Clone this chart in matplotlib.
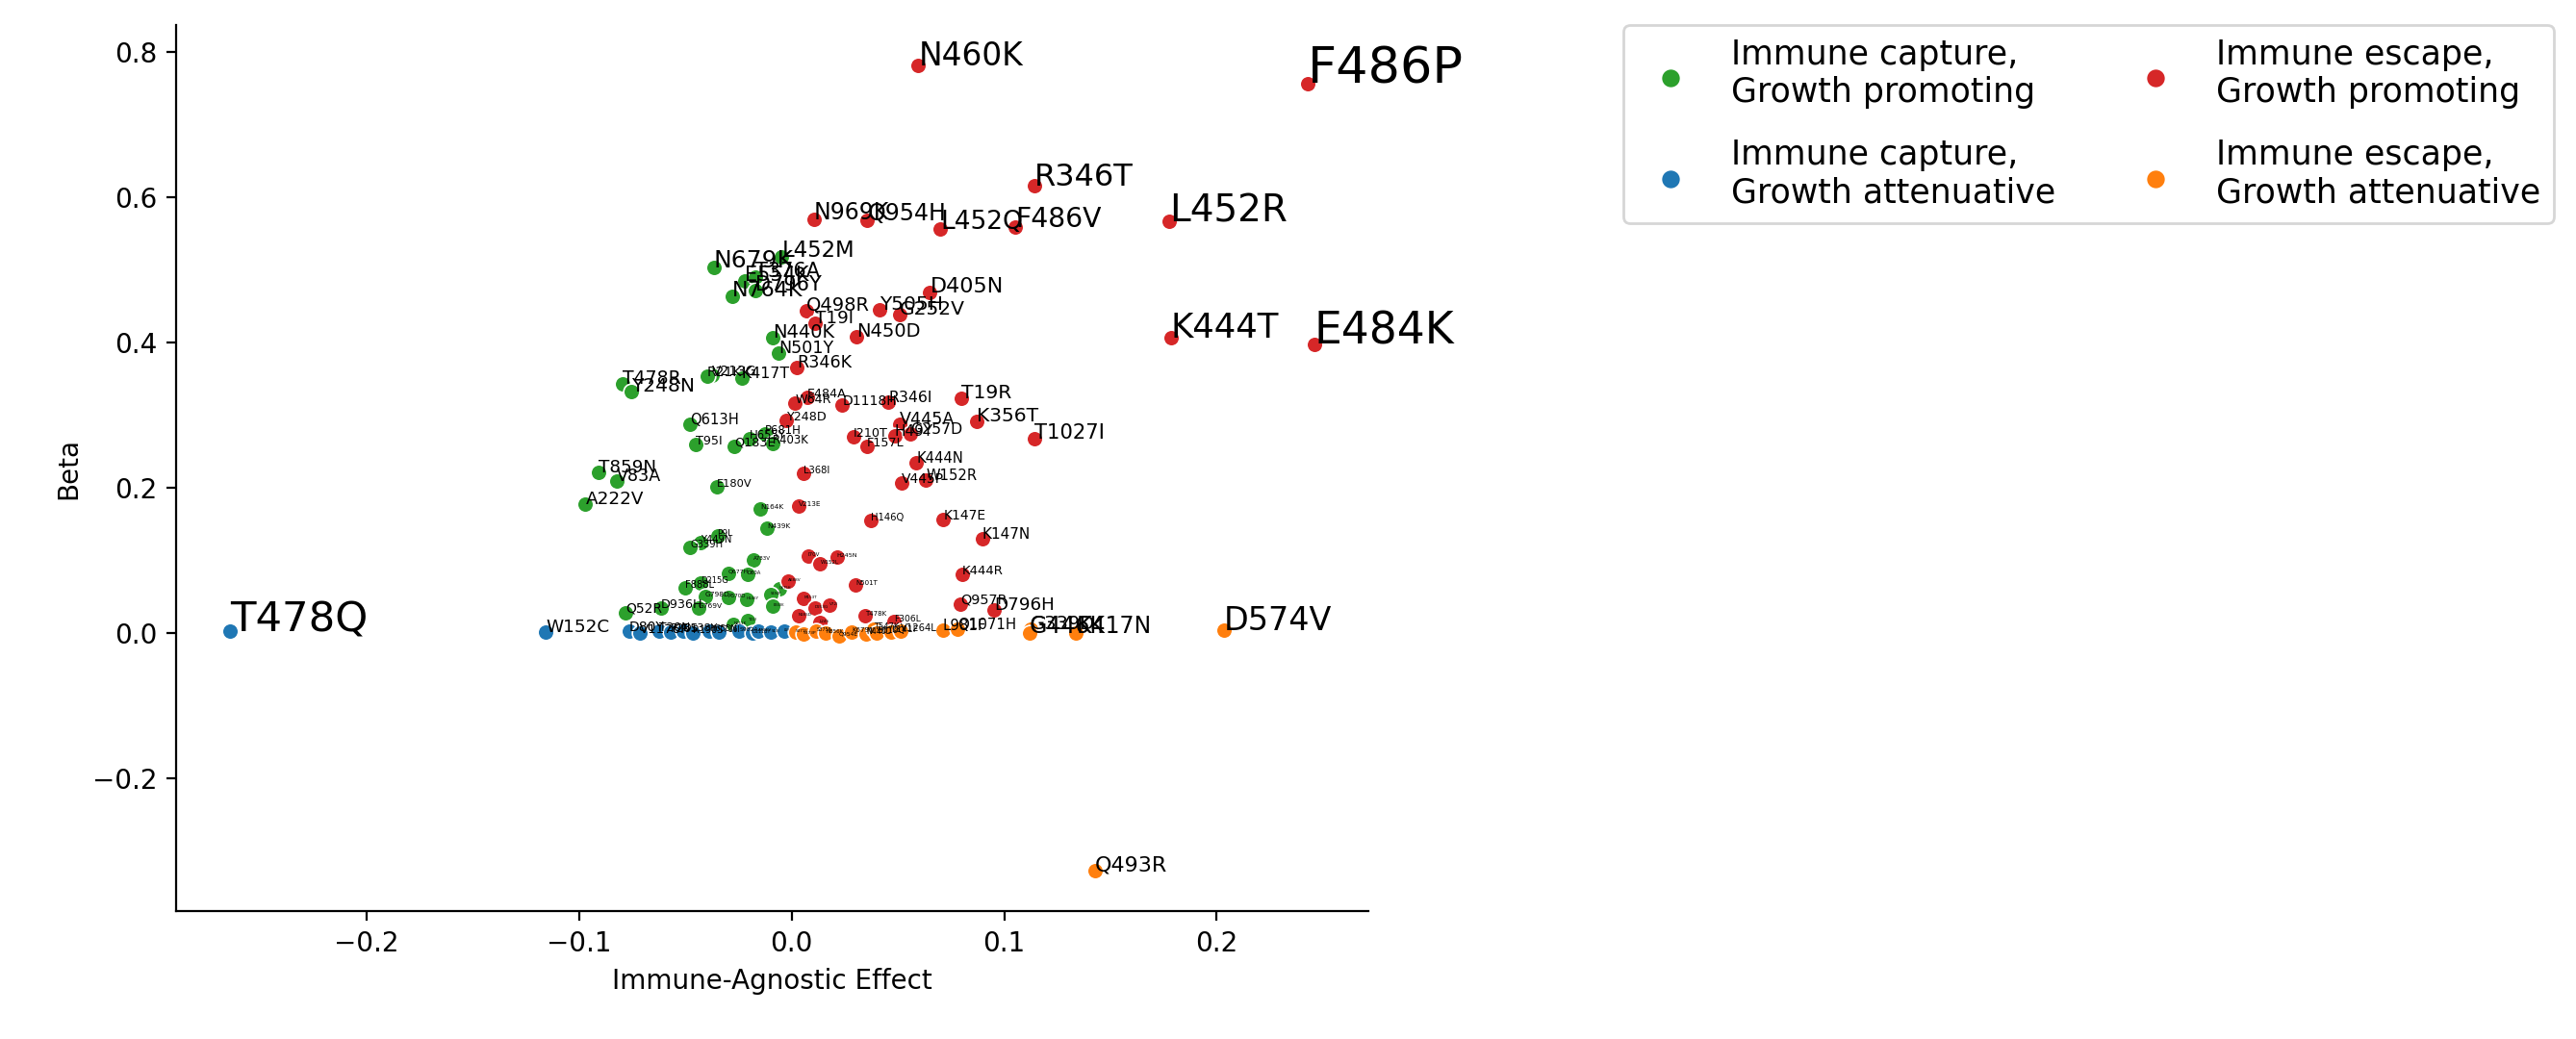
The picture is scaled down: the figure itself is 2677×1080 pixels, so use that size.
import matplotlib
matplotlib.use("Agg")
import matplotlib.pyplot as plt

# ---- data ----
# Immune capture, growth promoting (green)
cap_grow_names = ["N679K", "L452M", "E554K", "T376A", "D796Y", "N764K", "N440K", "N501Y",
                  "T478R", "Y248N", "V213G", "R21K", "K417T", "Q613H", "T95I", "Q183E",
                  "H655Y", "P681H", "R403K", "T859N", "V83A", "A222V", "E180V", "N164K",
                  "N439K", "P9L", "Y449N", "G339H", "A783V", "Q677H", "D80A", "D215G",
                  "F888L", "G798D", "A570D", "H146Y", "G769V", "D936H", "Q52R", "Q675H",
                  "S494P", "E340K", "N211K", "T22I"]
cap_grow_x = [-0.0367, -0.0047, -0.0219, -0.0171, -0.0171, -0.0279, -0.0087, -0.0062,
              -0.0796, -0.0756, -0.0374, -0.0398, -0.0235, -0.0480, -0.0453, -0.0269,
              -0.0198, -0.0126, -0.0088, -0.0910, -0.0823, -0.0970, -0.0352, -0.0149,
              -0.0115, -0.0349, -0.0427, -0.0477, -0.0181, -0.0299, -0.0209, -0.0427,
              -0.0502, -0.0408, -0.0299, -0.0213, -0.0439, -0.0616, -0.0782, -0.0058,
              -0.0099, -0.0088, -0.0273, -0.0206]
cap_grow_y = [0.503, 0.518, 0.485, 0.490, 0.472, 0.463, 0.407, 0.386,
              0.343, 0.332, 0.355, 0.354, 0.351, 0.288, 0.259, 0.257,
              0.268, 0.274, 0.261, 0.221, 0.209, 0.178, 0.201, 0.171,
              0.144, 0.134, 0.124, 0.118, 0.100, 0.082, 0.081, 0.069,
              0.062, 0.050, 0.049, 0.046, 0.034, 0.034, 0.028, 0.061,
              0.053, 0.037, 0.012, 0.017]
cap_grow_pt = [9.0, 8.2, 7.5, 7.5, 7.5, 8.0, 7.0, 6.3,
               6.8, 7.3, 5.0, 5.0, 5.7, 5.3, 4.6, 4.6,
               4.2, 4.2, 4.2, 6.6, 6.3, 6.6, 4.1, 2.6,
               2.6, 3.3, 3.6, 3.6, 2.0, 2.2, 1.9, 3.0,
               3.6, 2.7, 2.0, 1.5, 2.7, 4.6, 5.0, 1.3,
               1.3, 1.3, 1.5, 1.5]

# Immune capture, growth attenuative (blue)
cap_att_names = ["T478Q", "W152C", "D80Y", "V1176F", "T20N", "P26S", "D138Y", "R190S",
                 "H655N", "T716I", "S982A", "D1118Y", "A701V", "S13I", "L5F"]
cap_att_x = [-0.2641, -0.1158, -0.0766, -0.0714, -0.0623, -0.0570, -0.0510, -0.0465,
             -0.0389, -0.0344, -0.0247, -0.0186, -0.0156, -0.0096, -0.0035]
cap_att_y = [0.002, 0.001, 0.002, 0.000, 0.003, 0.001, 0.002, 0.000,
             0.003, 0.001, 0.002, 0.000, 0.003, 0.001, 0.002]
cap_att_pt = [15.6, 6.6, 5.0, 4.8, 4.4, 4.2, 4.0, 3.5,
              3.0, 2.8, 2.2, 1.8, 1.6, 1.4, 1.3]

# Immune escape, growth promoting (red)
esc_grow_names = ["N460K", "F486P", "R346T", "L452R", "N969K", "Q954H", "L452Q", "F486V",
                  "K444T", "E484K", "D405N", "Q498R", "Y505H", "G252V", "T19I", "N450D",
                  "R346K", "E484A", "W64R", "D1118H", "R346I", "T19R", "K356T", "T1027I",
                  "Y248D", "V445A", "H49Y", "G257D", "I210T", "F157L", "K444N", "V445P",
                  "W152R", "L368I", "V213E", "H146Q", "K147E", "K147N", "K444R", "Q957R",
                  "D796H", "I70V", "W152L", "H245N", "A688V", "N501T", "M153T", "D253G",
                  "V72I", "N185D", "T478K", "F306L", "L24S"]
esc_grow_x = [0.0596, 0.2430, 0.1144, 0.1778, 0.0105, 0.0356, 0.0700, 0.1052,
              0.1784, 0.2460, 0.0651, 0.0071, 0.0412, 0.0507, 0.0112, 0.0304,
              0.0026, 0.0074, 0.0017, 0.0239, 0.0455, 0.0799, 0.0869, 0.1143,
              -0.0027, 0.0510, 0.0485, 0.0560, 0.0289, 0.0353, 0.0586, 0.0518,
              0.0632, 0.0058, 0.0034, 0.0372, 0.0714, 0.0896, 0.0802, 0.0794,
              0.0953, 0.0078, 0.0135, 0.0213, -0.0017, 0.0301, 0.0058, 0.0108,
              0.0176, 0.0033, 0.0345, 0.0481, 0.0131]
esc_grow_y = [0.782, 0.757, 0.616, 0.567, 0.570, 0.569, 0.556, 0.559,
              0.407, 0.398, 0.469, 0.444, 0.445, 0.438, 0.427, 0.408,
              0.365, 0.325, 0.316, 0.314, 0.318, 0.323, 0.291, 0.267,
              0.292, 0.288, 0.272, 0.274, 0.270, 0.257, 0.234, 0.206,
              0.210, 0.220, 0.175, 0.155, 0.156, 0.129, 0.080, 0.040,
              0.031, 0.106, 0.095, 0.104, 0.071, 0.066, 0.047, 0.034,
              0.038, 0.023, 0.023, 0.016, 0.014]
esc_grow_pt = [11.8, 18.9, 11.5, 14.0, 8.5, 8.5, 9.5, 10.2,
               12.8, 16.4, 8.0, 7.0, 7.3, 7.3, 6.6, 7.0,
               6.3, 4.6, 4.6, 5.0, 5.7, 7.3, 7.3, 7.6,
               4.6, 6.3, 5.5, 5.7, 4.6, 4.6, 5.3, 5.0,
               5.3, 3.6, 2.6, 3.6, 5.0, 5.5, 4.8, 5.2,
               6.6, 2.0, 2.0, 2.3, 1.5, 2.5, 1.5, 1.5,
               1.5, 1.5, 2.5, 3.3, 1.5]

# Immune escape, growth attenuative (orange)
esc_att_names = ["S371F", "S373P", "S375F", "N856K", "Q954E", "K679N", "N440D", "T547K",
                 "E619Q", "L141F", "V1264L", "L981F", "Q1071H", "G339D", "G446K", "K417N",
                 "D574V", "Q493R"]
esc_att_x = [0.0018, 0.0055, 0.0116, 0.0161, 0.0222, 0.0282, 0.0349, 0.0387,
             0.0402, 0.0469, 0.0515, 0.0711, 0.0780, 0.1123, 0.1118, 0.1338,
             0.2033, 0.1427]
esc_att_y = [0.001, -0.002, 0.003, 0.000, -0.004, 0.001, -0.002, 0.005,
             0.000, 0.001, 0.002, 0.004, 0.005, 0.005, 0.000, 0.000,
             0.004, -0.328]
esc_att_pt = [1.5, 1.6, 1.8, 2.0, 2.2, 2.5, 2.8, 3.0,
              3.2, 3.4, 3.6, 5.4, 5.4, 7.0, 8.5, 8.5,
              12.0, 8.0]

# ---- plotting ----
groups = [
    ("Immune capture,\nGrowth promoting", "#2ca02c", cap_grow_names, cap_grow_x, cap_grow_y, cap_grow_pt),
    ("Immune capture,\nGrowth attenuative", "#1f77b4", cap_att_names, cap_att_x, cap_att_y, cap_att_pt),
    ("Immune escape,\nGrowth promoting", "#d62728", esc_grow_names, esc_grow_x, esc_grow_y, esc_grow_pt),
    ("Immune escape,\nGrowth attenuative", "#ff7f0e", esc_att_names, esc_att_x, esc_att_y, esc_att_pt),
]

fig = plt.figure(figsize=(2677 / 200, 1080 / 200), dpi=200)
ax = fig.add_axes([0.0684, 0.123, 0.4629, 0.853])

for label, color, names, xs, ys, pts in groups:
    ax.scatter(xs, ys, s=36, color=color, edgecolor="white", linewidth=0.6, label=label)

# label every point, text size follows the reference
for label, color, names, xs, ys, pts in groups:
    for name, x, y, pt in zip(names, xs, ys, pts):
        ax.text(x, y, name, fontsize=pt)

ax.set_xlabel("Immune-Agnostic Effect")
ax.set_ylabel("Beta")
ax.spines["top"].set_visible(False)
ax.spines["right"].set_visible(False)

ax.legend(loc="upper left", bbox_to_anchor=(1.214, 1.0), borderaxespad=0, ncol=2,
          fontsize=12.5, labelspacing=0.9, markerscale=1.2)

fig.savefig("out.png", dpi=200)
